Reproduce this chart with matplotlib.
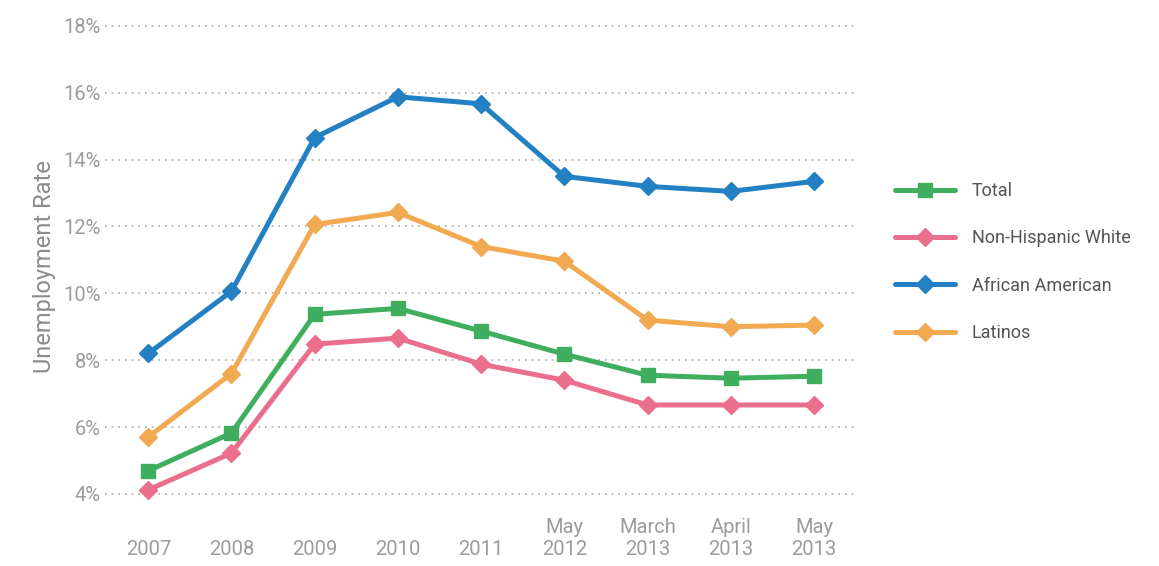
import matplotlib.pyplot as plt
from matplotlib.ticker import FuncFormatter

# Data
periods = ["\n2007", "\n2008", "\n2009", "\n2010", "\n2011",
           "May\n2012", "March\n2013", "April\n2013", "May\n2013"]
total = [4.69, 5.82, 9.37, 9.55, 8.87, 8.18, 7.55, 7.46, 7.52]
white = [4.12, 5.22, 8.48, 8.66, 7.88, 7.40, 6.66, 6.66, 6.66]
african_american = [8.20, 10.06, 14.66, 15.88, 15.67, 13.50, 13.20, 13.05, 13.35]
latinos = [5.70, 7.60, 12.06, 12.42, 11.40, 10.96, 9.20, 9.00, 9.05]
yticks = [4, 6, 8, 10, 12, 14, 16, 18]

# Styles
c_total = "#3fae5e"
c_white = "#ea6f8c"
c_black = "#2381c3"
c_latino = "#f2aa52"
tick_grey = "#9c9c9c"

plt.rcParams['font.family'] = ['Roboto', 'DejaVu Sans']

fig = plt.figure(figsize=(11.59, 5.66), dpi=100)
ax = fig.add_axes([0.0906, 0.092, 0.649, 0.874])

x = range(len(periods))
series = [
    (total, c_total, "s", "Total"),
    (white, c_white, "D", "Non-Hispanic White"),
    (african_american, c_black, "D", "African American"),
    (latinos, c_latino, "D", "Latinos"),
]
handles = []
# Total drawn last so it sits above the white series
for vals, col, mk, lab in [series[3], series[2], series[1], series[0]]:
    h, = ax.plot(x, vals, color=col, marker=mk, markersize=9.5, lw=3.6,
                 solid_capstyle='round', label=lab, zorder=3)
    handles.append(h)
handles = handles[::-1]

ax.set_xlim(-0.52, 8.52)
ax.set_ylim(3.4, 18.2)
ax.set_yticks(yticks)
ax.yaxis.set_major_formatter(FuncFormatter(lambda v, p: f"{int(v)}%"))
ax.set_xticks(list(x))
ax.set_xticklabels(periods, linespacing=1.2)

ax.grid(axis='y', color="#a8a8a8", linestyle=(0, (1, 3)), lw=1.2, zorder=0)
for s in ax.spines.values():
    s.set_visible(False)
ax.tick_params(axis='both', length=0, labelsize=14.5, colors=tick_grey)
ax.tick_params(axis='y', pad=3)
ax.tick_params(axis='x', pad=3)
ax.set_ylabel("Unemployment Rate", fontsize=17, color="#8c8c8c", labelpad=5)

fig.legend(handles=handles, loc='center left',
           bbox_to_anchor=(0.7645, 1 - 262 / 566), frameon=False,
           handlelength=3.3, handletextpad=0.95, labelspacing=1.62,
           borderpad=0, prop={'size': 13},
           labelcolor="#555555")

fig.savefig("out.png", dpi=100)
